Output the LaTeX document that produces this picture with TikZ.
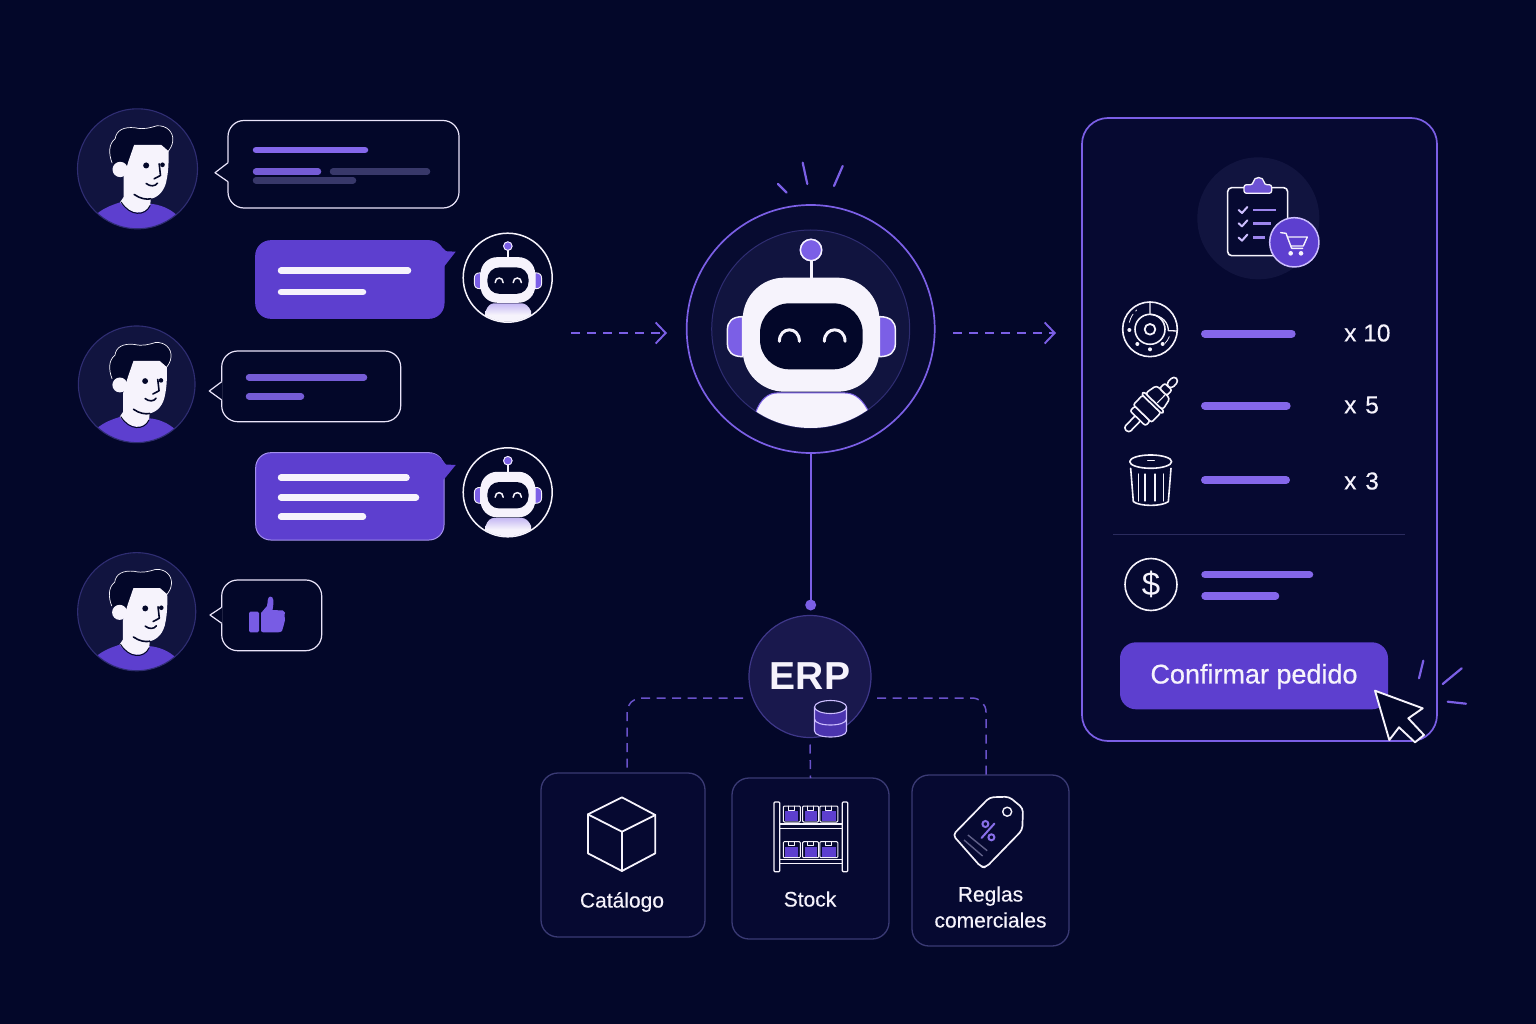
\documentclass[tikz,border=0pt]{standalone}
\usepackage{fontspec}
\setmainfont{Liberation Sans}
\newfontfamily\medfont[FakeBold=0.6]{Liberation Sans}
\newfontfamily\textmed[FakeBold=0.25]{Liberation Sans}
\usetikzlibrary{arrows.meta,calc}
\definecolor{bgnavy}{HTML}{030729}
\definecolor{panelnavy}{HTML}{060931}
\definecolor{discnavy}{HTML}{11143F}
\definecolor{discedge}{HTML}{2F2D72}
\definecolor{boxedge}{HTML}{3A3A74}
\definecolor{fillviolet}{HTML}{5D3FCF}
\definecolor{lineviolet}{HTML}{7B5FE6}
\definecolor{barviolet}{HTML}{8467EA}
\definecolor{softwhite}{HTML}{F6F3FC}
\definecolor{bargrey}{HTML}{38386A}
\definecolor{lavender}{HTML}{CDBEFF}
\tikzset{
  x=1pt,y=-1pt,
  bar/.style={line cap=round,line width=#1},
  bar/.default=6.5pt,
  bubbleline/.style={draw=softwhite!90!lineviolet,line width=1.2pt,fill=bgnavy},
  bubblesolid/.style={fill=fillviolet,line width=1pt},
  flowarrow/.style={draw=lineviolet,line width=1.9pt,dash pattern=on 9pt off 7pt,
    -{Straight Barb[length=10pt,width=21pt,line width=1.9pt]}},
  branch/.style={draw=lineviolet!85!bgnavy,line width=1.5pt,dash pattern=on 9pt off 6.5pt,rounded corners=14pt},
  spark/.style={draw=lineviolet,line width=2.2pt,line cap=round},
  iconline/.style={draw=softwhite,line width=1.6pt,line join=round,line cap=round},
  tilebox/.style={draw=boxedge,line width=1.3pt,fill=panelnavy,rounded corners=17pt,inner sep=0pt,outer sep=0pt},
  caption/.style={text=softwhite,inner sep=0pt,align=center,font=\fontsize{21}{26}\selectfont\textmed},
  qty/.style={text=softwhite,inner sep=0pt,anchor=west,font=\fontsize{24.5}{28}\selectfont\textmed},
}

% outlined speech bubble with a pointed tail on its left side:
% x1, y1, x2, y2, tail top, tail bottom, tip x, tip y
\newcommand{\tailbubble}[8]{%
  \draw[bubbleline,rounded corners=16pt] (#1,#2) rectangle (#3,#4);
  \fill[bgnavy] (#1-1,#5) -- (#7,#8) -- (#1-1,#6) -- (#1+1,#6) -- (#1+1,#5) -- cycle;
  \draw[bubbleline,fill=none,line join=round] (#1,#5) -- (#7,#8) -- (#1,#6);
}

% filled speech bubble with its tail at the top right:
% x1, y1, x2, y2, tip x, tip y, tail bottom, border colour
\newcommand{\solidbubble}[8]{%
  \draw[bubblesolid,draw=#8,rounded corners=15pt] (#1,#2) rectangle (#3,#4);
  \fill[fillviolet] (#3-12,#2+.6) .. controls (#3-5,#2+2) and (#3-3,#2+6) .. (#3+2,#6-.5) -- (#5,#6) -- (#3,#7) -- (#3-12,#7) -- cycle;
}

% person avatar: centre x, centre y, drawing unit in pt
\newcommand{\personfig}[3]{%
\begin{scope}[shift={(#1,#2)},x=#3pt,y=-#3pt]
\begin{scope}[shift={(-232,-235)}]
  \fill[discnavy] (232,235) circle[radius=180];
  \begin{scope}
    \clip (232,235) circle[radius=180];
    \fill[fillviolet] (108,372) .. controls (130,352) and (160,342) .. (182,335) -- (270,340)
      .. controls (300,342) and (330,355) .. (350,374) -- (350,430) -- (108,430) -- cycle;
  \end{scope}
  \draw[discedge,line width=1.1pt] (232,235) circle[radius=180];
  % hair
  \fill[bgnavy] (156,218) .. controls (145,190) and (145,160) .. (165,145)
     .. controls (168,120) and (190,108) .. (225,112) .. controls (250,118) and (270,112) .. (290,106)
     .. controls (320,104) and (340,125) .. (338,150) .. controls (337,165) and (330,175) .. (322,185)
     -- (222,200) -- (190,240) -- cycle;
  \draw[softwhite,line width=.7pt] (156,218) .. controls (145,190) and (145,160) .. (165,145)
     .. controls (168,120) and (190,108) .. (225,112) .. controls (250,118) and (270,112) .. (290,106)
     .. controls (320,104) and (340,125) .. (338,150) .. controls (337,165) and (330,175) .. (322,185);
  % face, neck and ear
  \fill[softwhite] (222,163) -- (303,163) -- (325,182) .. controls (326,210) and (325,240) .. (320,265)
     .. controls (315,300) and (295,320) .. (272,325) -- (270,345) .. controls (255,375) and (210,375) .. (180,335)
     -- (190,320) -- (190,262) -- (205,212) -- cycle;
  \fill[softwhite] (180,237) circle[radius=23];
  \draw[bgnavy,line width=1pt,line cap=round] (183,335) .. controls (210,378) and (255,378) .. (270,345);
  \draw[bgnavy,line width=1.6pt,line cap=round] (222,312) .. controls (240,325) and (260,328) .. (272,325);
  \fill[bgnavy] (258,225) circle[radius=9];
  \fill[bgnavy] (307,223) circle[radius=7];
  \draw[bgnavy,line width=1.6pt,line cap=round,line join=round] (297,220) -- (301,255) -- (282,265);
  \draw[bgnavy,line width=1.6pt,line cap=round] (258,279) .. controls (270,289) and (285,288) .. (292,278);
\end{scope}
\end{scope}}

% robot head: centre x, centre y, unit, clip radius, eye width, outline width, body options
\newcommand{\robotfig}[7]{%
\begin{scope}[shift={(#1,#2)},x=#3pt,y=-#3pt]
\begin{scope}[shift={(-422,-537)}]
  \begin{scope}
    \clip (422,537) circle[radius=#4];
    \path[#7] (256,790) .. controls (270,748) and (295,729) .. (320,729) -- (525,729)
       .. controls (555,729) and (580,750) .. (598,790) -- (598,900) -- (256,900) -- cycle;
  \end{scope}
  \draw[lineviolet,fill=lineviolet,line width=#6] (423,300) circle[radius=32];
  \draw[softwhite,line width=#6] (423,300) circle[radius=32];
  \draw[softwhite,line width=#5] (423,332) -- (423,384);
  \foreach \earx/\tipx in {218/172,628/676} {
    \draw[softwhite,fill=lineviolet,line width=#6] (\earx,500) .. controls (\tipx+.3*\earx-.3*\tipx,500) and (\tipx,515) .. (\tipx,540)
       -- (\tipx,580) .. controls (\tipx,605) and (\tipx+.3*\earx-.3*\tipx,620) .. (\earx,620) -- cycle;
  }
  \fill[softwhite,rounded corners=#3*125pt] (218,383) rectangle (628,725);
  \fill[bgnavy,rounded corners=#3*88pt] (270,460) rectangle (578,658);
  \draw[softwhite,line width=#5,line cap=round] (328,574) .. controls (328,528) and (388,528) .. (388,574);
  \draw[softwhite,line width=#5,line cap=round] (463,574) .. controls (463,528) and (525,528) .. (525,574);
\end{scope}
\end{scope}}

\begin{document}
\begin{tikzpicture}
\useasboundingbox (0,0) rectangle (1536,1024);
\fill[bgnavy] (0,0) rectangle (1536,1024);

% ---- conversation, left column
\personfig{137.5}{168.8}{.3333}
\tailbubble{228}{120.5}{459}{208}{162.7}{181.7}{215}{172.7}
\draw[bar,barviolet] (256,150) -- (365,150);
\draw[bar,fillviolet!85!white] (256,171.7) -- (318,171.7);
\draw[bar,bargrey] (333,171.7) -- (427,171.7);
\draw[bar,bargrey] (256,180.3) -- (353,180.3);

\solidbubble{255.7}{240.7}{444}{318.3}{455.7}{251.7}{266.7}{fillviolet}
\draw[bar,softwhite] (281,270.7) -- (408,270.7);
\draw[bar,softwhite] (281,292) -- (363,292);
\node[circle,draw=softwhite,line width=1.5pt,fill=bgnavy,minimum size=89pt,inner sep=0pt,outer sep=0pt] (botone) at (507.7,277.7) {};
\robotfig{507.7}{277.7}{.1333}{330}{1.5pt}{.9pt}{top color=softwhite!60!lineviolet,bottom color=softwhite,middle color=softwhite}

\personfig{136.7}{384.3}{.324}
\tailbubble{221.7}{351}{400.7}{421.7}{381.7}{400}{209.3}{391}
\draw[bar,fillviolet!85!white] (249,377.3) -- (364,377.3);
\draw[bar,fillviolet!85!white] (249,396.3) -- (301,396.3);

\solidbubble{255.7}{452.7}{444}{540}{455.7}{465}{479.3}{lineviolet!70!white}
\draw[bar,softwhite] (281,477.7) -- (406.5,477.7);
\draw[bar,softwhite] (281,497.3) -- (416,497.3);
\draw[bar,softwhite] (281,516.7) -- (363,516.7);
\node[circle,draw=softwhite,line width=1.5pt,fill=bgnavy,minimum size=89pt,inner sep=0pt,outer sep=0pt] (bottwo) at (507.7,492.3) {};
\robotfig{507.7}{492.3}{.1333}{330}{1.5pt}{.9pt}{top color=softwhite!60!lineviolet,bottom color=softwhite,middle color=softwhite}

\personfig{136.7}{611.7}{.328}
\tailbubble{221.7}{580}{321.7}{650.7}{607.3}{623.3}{210}{615}
% thumbs-up
\fill[lineviolet!90!fillviolet,rounded corners=1.5pt] (249,611.7) rectangle (259,632.3);
\fill[lineviolet!90!fillviolet] (261,613) -- (267,606) .. controls (268,602) and (267,598) .. (270,596.5)
  .. controls (274,596) and (274,602) .. (272.5,610) -- (283,610.5) .. controls (286,611) and (285,614) .. (284.5,615)
  -- (285,620) -- (283.5,626) -- (282,631) .. controls (281,632.3) and (279,632.3) .. (278,632.3) -- (263,632.3)
  .. controls (261.5,632.3) and (261,631) .. (261,630) -- cycle;

% ---- central assistant
\node[circle,draw=lineviolet,line width=1.7pt,fill=bgnavy!70!discnavy,minimum size=248pt,inner sep=0pt,outer sep=0pt] (hub) at (810.7,329) {};
\node[circle,draw=discedge,line width=1pt,fill=discnavy,minimum size=198pt,inner sep=0pt,outer sep=0pt] (hubcore) at (810.7,329) {};
\robotfig{810.7}{329}{.3333}{297}{3pt}{1.5pt}{fill=softwhite,draw=lineviolet,line width=1pt}
\draw[spark] (802.7,162.7) -- (807.3,184);
\draw[spark] (842.7,166) -- (834,186);
\draw[spark] (778,184) -- (786.7,192.7);

\coordinate (chatout) at (571,333);
\coordinate (hubin) at (667,333);
\coordinate (hubout) at (953,333);
\coordinate (orderin) at (1056,333);
\draw[flowarrow] (chatout) -- (hubin);
\draw[flowarrow] (hubout) -- (orderin);

% ---- ERP and its three data sources
\node[circle,draw=discedge!80!lineviolet,line width=1.2pt,fill=discnavy!90!fillviolet,minimum size=122pt,inner sep=0pt,outer sep=0pt,
  text=softwhite,font=\fontsize{39}{44}\selectfont\bfseries] (erp) at (810,676.5) {ERP};
\node[circle,fill=lineviolet,minimum size=11pt,inner sep=0pt,outer sep=0pt] (erpdot) at (810.7,605) {};
\draw[lineviolet,line width=2.4pt] (hub) -- (erpdot);

\node[tilebox,minimum width=164pt,minimum height=164pt] (catalogo) at (623,855) {};
\node[tilebox,minimum width=157pt,minimum height=161pt] (stock) at (810.5,858.5) {};
\node[tilebox,minimum width=157pt,minimum height=171pt] (reglas) at (990.5,860.5) {};

\coordinate (leftgap) at (743,698);
\coordinate (rightgap) at (877,698);
\coordinate (cattop) at (627,773);
\coordinate (reglatop) at (986,775);
\draw[branch] (leftgap) -- (627,698) -- (cattop);
\draw[branch] (rightgap) -- (986,698) -- (reglatop);
\draw[branch] (erp.south) ++(0,7) -- (stock.north);

% database badge
\begin{scope}[line width=1.1pt]
  \fill[fillviolet!80!bgnavy] (814.5,707) -- (814.5,731) .. controls (814.5,739) and (846.5,739) .. (846.5,731) -- (846.5,707) -- cycle;
  \fill[discnavy] (830.5,707) ellipse[x radius=16,y radius=6.5];
  \draw[lavender] (830.5,707) ellipse[x radius=16,y radius=6.5];
  \draw[lavender] (814.5,707) -- (814.5,731) .. controls (814.5,739) and (846.5,739) .. (846.5,731) -- (846.5,707);
  \draw[lavender] (814.5,719) .. controls (814.5,727) and (846.5,727) .. (846.5,719);
\end{scope}

% cube
\draw[iconline,line width=1.8pt] (621.9,797.3) -- (655.3,815) -- (655.3,853.3) -- (621.9,871) -- (587.9,853.3) -- (587.9,814.3) -- cycle;
\draw[iconline,line width=1.8pt] (587.9,814.3) -- (621.9,831.7) -- (655.3,815) (621.9,831.7) -- (621.9,871);
\node[caption] (catalogolabel) at (622,902) {Catálogo};

% shelving
\begin{scope}[iconline,line width=1.3pt]
  \draw[rounded corners=1pt] (774,802) rectangle (779.8,871.7);
  \draw[rounded corners=1pt] (842.3,802) rectangle (847.8,871.7);
  \draw (779.8,824) -- (842.3,824) (779.8,828.3) -- (842.3,828.3);
  \draw (779.8,859.3) -- (842.3,859.3) (779.8,863.3) -- (842.3,863.3);
  \foreach \bx/\bw in {783.3/17,802.6/16,819.8/18} {
    \foreach \by in {806,841.7} {
      \fill[fillviolet] (\bx+2,\by+5) rectangle (\bx+\bw-2,\by+15);
      \draw[line width=1pt,rounded corners=1pt] (\bx,\by) rectangle (\bx+\bw,\by+16);
      \draw[line width=.9pt] (\bx+\bw/2-3,\by) -- (\bx+\bw/2-3,\by+4) -- (\bx+\bw/2+3,\by+4) -- (\bx+\bw/2+3,\by);
    }
  }
\end{scope}
\node[caption] (stocklabel) at (810,899) {Stock};

% price tag
\draw[iconline,line width=1.7pt,rounded corners=4pt] (952.8,835) -- (989.6,797.3) -- (1009,796.7) -- (1023,808.3) -- (1022.3,830) -- (986.1,867.3) -- (981,867) -- cycle;
\draw[iconline,line width=1.4pt] (1007.2,811.7) circle (4.5pt);
\draw[lineviolet!90!white,line width=2pt] (985.4,824) circle (3pt);
\draw[lineviolet!90!white,line width=2pt] (991.4,837.3) circle (3pt);
\draw[lineviolet!90!white,line width=2pt,line cap=round] (994.5,823.5) -- (981.5,838);
\draw[bargrey!80!white,line width=1.4pt] (967.9,835) -- (987.2,850.7);
\draw[bargrey!80!white,line width=1.4pt] (964,840) -- (982.6,856);
\node[caption] (reglaslabel) at (990.5,907) {Reglas\\[0pt]comerciales};

% ---- order card
\node[draw=lineviolet,line width=1.7pt,fill=panelnavy,rounded corners=26pt,minimum width=355pt,minimum height=623pt,inner sep=0pt,outer sep=0pt] (ordercard) at (1259.5,429.5) {};

\begin{scope}[shift={(1100,140)},x=.3333pt,y=-.3333pt]
  \fill[discnavy] (475,235) circle[radius=183];
  % clipboard
  \draw[iconline,fill=panelnavy,rounded corners=4pt] (383,143) rectangle (563,347);
  \draw[iconline,fill=fillviolet!90!white,line width=1.3pt,rounded corners=2.5pt]
    (432,160) -- (432,134) -- (459,134) .. controls (461,108) and (491,108) .. (493,134) -- (515,134) -- (515,160) -- cycle;
  \foreach \cy/\lx in {210/528,250/512,293/495} {
    \draw[lavender,line width=2pt,line cap=round,line join=round] (416,\cy) -- (426,\cy+9) -- (442,\cy-9);
    \draw[barviolet!80!white,line width=2.4pt] (460,\cy) -- (\lx,\cy);
  }
  % cart badge
  \draw[lavender,line width=1.5pt,fill=fillviolet] (583,307) circle[radius=74];
  \draw[iconline,line width=1.4pt] (542,278) -- (558,280) -- (575,325) -- (608,325);
  \draw[iconline,line width=1.4pt] (563,291) -- (622,291) -- (610,318) -- (573,318);
  \fill[softwhite] (572,340) circle[radius=7] (603,340) circle[radius=7];

  % brake disc
  \draw[iconline] (150,568) circle[radius=82];
  \draw[iconline] (150,568) circle[radius=45];
  \draw[iconline,line width=1.8pt] (150,568) circle[radius=16];
  \draw[iconline,line width=1.3pt] (150,488) -- (150,523) .. controls (190,527) and (205,550) .. (205,572) -- (230,573);
  \draw[iconline,line width=.8pt,dash pattern=on 9pt off 4pt] (88,547) .. controls (92,530) and (100,520) .. (110,510);
  \draw[iconline,line width=.8pt] (208,590) .. controls (205,598) and (200,605) .. (195,610);
  \foreach \dx/\dy in {88/570,112/612,150/628,188/612} \fill[softwhite] (\dx,\dy) circle[radius=6];

  % spark plug
  \begin{scope}[shift={(155,792)},rotate=46]
    \draw[iconline,fill=panelnavy,rounded corners=3pt] (-110,-11) rectangle (-55,11);
    \draw[iconline,fill=panelnavy,rounded corners=2pt] (-60,-32) rectangle (-40,32);
    \draw[iconline,fill=panelnavy,rounded corners=2pt] (-40,-38) rectangle (0,38);
    \draw[iconline,fill=panelnavy,rounded corners=2pt] (0,-42) rectangle (10,42);
    \draw[iconline,fill=panelnavy,rounded corners=3pt] (10,-36) -- (50,-28) -- (50,28) -- (10,36) -- cycle;
    \draw[iconline,line width=1.1pt] (15,10) -- (45,10);
    \draw[iconline,fill=panelnavy,rounded corners=2pt] (50,-15) rectangle (72,15);
    \draw[iconline,fill=panelnavy,rounded corners=4pt] (72,-11) rectangle (107,11);
  \end{scope}

  % canister
  \draw[iconline,fill=panelnavy] (92,985) -- (100,1085) .. controls (120,1100) and (185,1100) .. (205,1085) -- (213,985);
  \draw[iconline,fill=panelnavy] (152,965) ellipse[x radius=63,y radius=20];
  \draw[iconline,line width=1pt] (143,961) -- (163,961);
  \foreach \lx in {115,135,165,190} \draw[iconline,line width=1.2pt] (\lx,1002) -- (\lx,1083);

  \draw[bar=8pt,barviolet] (315,581) -- (575,581);
  \draw[bar=8pt,barviolet] (315,797) -- (560,797);
  \draw[bar=8pt,barviolet] (315,1020) -- (558,1020);
\end{scope}

\node[qty] (qtyten) at (1344,333) {x 10};
\node[qty] (qtyfive) at (1344,405) {x\hspace{2pt} 5};
\node[qty] (qtythree) at (1344,481) {x\hspace{2pt} 3};

\coordinate (sepleft) at (1113,534);
\coordinate (sepright) at (1405,534);
\draw[boxedge!70!bgnavy,line width=1pt] (sepleft) -- (sepright);

\node[circle,draw=softwhite,line width=1.6pt,minimum size=52pt,inner sep=0pt,text=softwhite,font=\fontsize{33}{36}\selectfont] (dollar) at (1151,584.5) {\$};
\draw[bar=7.5pt,barviolet] (1205,574.7) -- (1309.5,574.7);
\draw[bar=7.5pt,barviolet] (1205,596) -- (1275.5,596);

\node[fill=fillviolet,rounded corners=16pt,minimum width=268pt,minimum height=67pt,inner sep=0pt,outer sep=0pt] (confirm) at (1254,675.8) {};
\node[text=softwhite,inner sep=0pt,font=\fontsize{27}{30}\selectfont\medfont] (confirmlabel) at (1254,676.5) {Confirmar pedido};

% pointer and its click marks
\draw[iconline,line width=1.9pt,fill=bgnavy] (1375,690.7) -- (1422.7,708.3) -- (1408.3,718.3) -- (1424,735) -- (1415,742.3) -- (1399,727.3) -- (1389.3,740) -- cycle;
\draw[spark] (1423.3,660.7) -- (1419,678.3);
\draw[spark] (1461.7,668.3) -- (1442.7,684);
\draw[spark] (1447.7,701.7) -- (1466,703.7);
\end{tikzpicture}
\end{document}
